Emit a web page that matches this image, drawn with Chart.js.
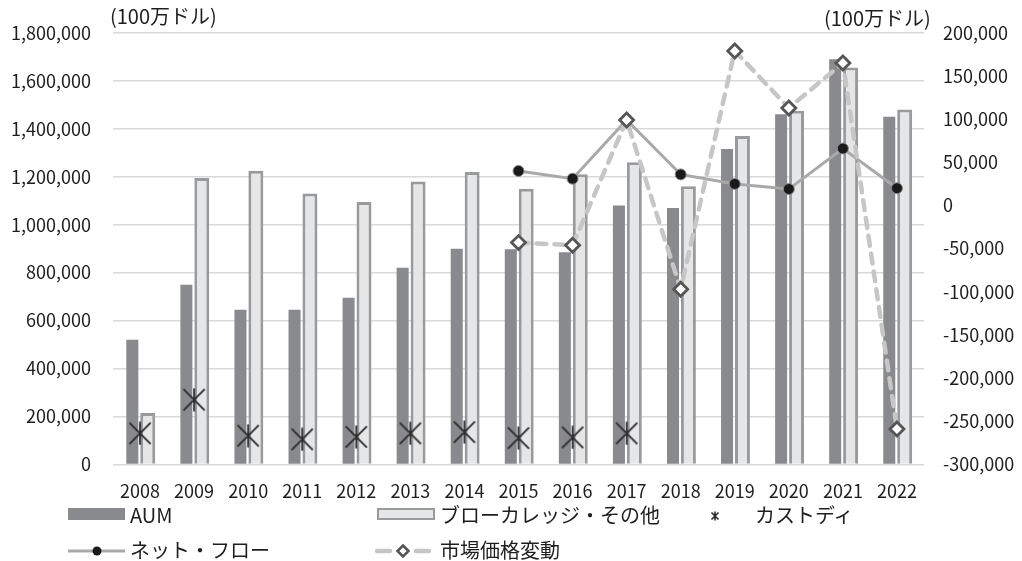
<!DOCTYPE html>
<html lang="ja">
<head>
<meta charset="utf-8">
<title>AUM・ブローカレッジ・カストディ</title>
<script src="https://cdn.jsdelivr.net/npm/chart.js@4/dist/chart.umd.min.js"></script>
<style>
  html, body { margin: 0; padding: 0; background: #fff; }
  #wrap { position: relative; width: 1022px; height: 561px; overflow: hidden;
          font-family: "Noto Sans CJK JP", "Noto Sans", sans-serif; color: #1e1e1e; }
  #chart { position: absolute; left: 0; top: 0; }
  .unit { position: absolute; font-size: 20px; line-height: 24px; white-space: nowrap; }
  .lg { position: absolute; font-size: 20px; line-height: 24px; white-space: nowrap; }
  .sym { position: absolute; }
</style>
</head>
<body>
<div id="wrap">
  <canvas id="chart" width="1022" height="561"></canvas>
  <div class="unit" style="left:110px; top:4px;">(100万ドル)</div>
  <div class="unit" style="left:824px; top:6px;">(100万ドル)</div>

  <!-- legend row 1 -->
  <div class="sym" style="left:68px; top:508px; width:57px; height:12px; background:#898a8e;"></div>
  <div class="lg" style="left:130px; top:503px;">AUM</div>
  <div class="sym" style="left:377px; top:508px; width:58px; height:12px; background:#e5e6e8; border:2.5px solid #999a9c; box-sizing:border-box;"></div>
  <div class="lg" style="left:440px; top:503px;">ブローカレッジ・その他</div>
  <svg class="sym" style="left:710px; top:511px;" width="10" height="10" viewBox="0 0 10 10">
    <path d="M1.5 1.5 L8.5 8.5 M8.5 1.5 L1.5 8.5 M5 0.5 L5 9.5" stroke="#2b2b2b" stroke-width="1.6" fill="none"/>
  </svg>
  <div class="lg" style="left:755px; top:503px;">カストディ</div>

  <!-- legend row 2 -->
  <svg class="sym" style="left:66px; top:542px;" width="62" height="18" viewBox="0 0 62 18">
    <line x1="2" y1="9" x2="59" y2="9" stroke="#a9a9a9" stroke-width="3"/>
    <circle cx="31" cy="9" r="4.5" fill="#1a1a1a"/>
  </svg>
  <div class="lg" style="left:130px; top:538px;">ネット・フロー</div>
  <svg class="sym" style="left:375px; top:541px;" width="62" height="20" viewBox="0 0 62 20">
    <line x1="2" y1="10" x2="15" y2="10" stroke="#c6c6c6" stroke-width="4.5" stroke-linecap="round"/>
    <line x1="41" y1="10" x2="54" y2="10" stroke="#c6c6c6" stroke-width="4.5" stroke-linecap="round"/>
    <path d="M28 4.5 L33.5 10 L28 15.5 L22.5 10 Z" fill="#fff" stroke="#555" stroke-width="2.6"/>
  </svg>
  <div class="lg" style="left:440px; top:538px;">市場価格変動</div>
</div>

<script>
// 年次カテゴリ
const years = ['2008', '2009', '2010', '2011', '2012', '2013', '2014', '2015',
               '2016', '2017', '2018', '2019', '2020', '2021', '2022'];

// 左軸 (100万ドル)
const aum        = [520000, 750000, 645000, 645000, 695000, 820000, 900000, 898000,
                    885000, 1080000, 1070000, 1315000, 1460000, 1690000, 1450000];
const brokerage  = [215000, 1195000, 1225000, 1130000, 1095000, 1180000, 1220000, 1150000,
                    1210000, 1260000, 1160000, 1370000, 1475000, 1655000, 1480000];
const custody    = [130000, 270000, 120000, 105000, 115000, 130000, 135000, 110000,
                    113000, 130000, null, null, null, null, null];

// 右軸 (100万ドル)
const netFlow      = [null, null, null, null, null, null, null, 40000,
                      31000, 99000, 36000, 25000, 19000, 66000, 20000];
const marketChange = [null, null, null, null, null, null, null, -43000,
                      -46000, 99000, -97000, 179000, 113000, 165000, -259000];

// 軸の目盛り範囲
const leftTicks  = { min: 0, max: 1800000, step: 200000 };
const rightTicks = { min: -300000, max: 200000, step: 50000 };

// カストディ用のアスタリスク型マーカー
function asteriskMarker(size, color, width) {
  const c = document.createElement('canvas');
  c.width = size; c.height = size;
  const g = c.getContext('2d');
  const m = width / 2 + 0.5;
  g.strokeStyle = color;
  g.lineWidth = width;
  g.beginPath();
  g.moveTo(m, m); g.lineTo(size - m, size - m);
  g.moveTo(size - m, m); g.lineTo(m, size - m);
  g.moveTo(size / 2, 0.5); g.lineTo(size / 2, size - 0.5);
  g.stroke();
  return c;
}

const tickFont = { family: '"Noto Sans CJK JP", "Noto Sans", sans-serif', size: 18 };
const fmt = v => Number(v).toLocaleString('en-US');

new Chart(document.getElementById('chart'), {
  type: 'bar',
  data: {
    labels: years,
    datasets: [
      {
        type: 'line', label: '市場価格変動', data: marketChange, yAxisID: 'yR', order: 0,
        borderColor: '#c6c6c6', borderWidth: 4.5, borderDash: [10, 8], borderCapStyle: 'round',
        pointStyle: 'rectRot', pointRadius: 7, pointHoverRadius: 7,
        pointBackgroundColor: '#ffffff', pointBorderColor: '#555555', pointBorderWidth: 2.8,
        tension: 0, spanGaps: false
      },
      {
        type: 'line', label: 'ネット・フロー', data: netFlow, yAxisID: 'yR', order: 1,
        borderColor: '#a9a9a9', borderWidth: 3,
        pointStyle: 'circle', pointRadius: 5.5, pointHoverRadius: 5.5,
        pointBackgroundColor: '#1a1a1a', pointBorderColor: '#8a8a8a', pointBorderWidth: 1,
        tension: 0
      },
      {
        type: 'line', label: 'カストディ', data: custody, yAxisID: 'yL', order: 2,
        showLine: false,
        pointStyle: asteriskMarker(24, '#2b2b2b', 1.8), pointRadius: 12, pointHoverRadius: 12
      },
      {
        label: 'AUM', data: aum, yAxisID: 'yL', order: 3,
        backgroundColor: '#898a8e', borderWidth: 0,
        barPercentage: 0.78, categoryPercentage: 0.57
      },
      {
        label: 'ブローカレッジ・その他', data: brokerage, yAxisID: 'yL', order: 4,
        backgroundColor: '#e5e6e8', borderColor: '#999a9c', borderWidth: 3,
        barPercentage: 0.97, categoryPercentage: 0.57
      }
    ]
  },
  options: {
    responsive: false,
    devicePixelRatio: 1,
    animation: false,
    layout: { padding: { top: 31.5, bottom: 56.5, left: 0, right: 0 } },
    plugins: { legend: { display: false }, tooltip: { enabled: false } },
    scales: {
      x: {
        offset: true,
        grid: { display: false, drawTicks: false, tickLength: 0 },
        border: { display: false },
        ticks: { color: '#1e1e1e', font: tickFont, padding: 16, maxRotation: 0, autoSkip: false },
        afterFit: s => { s.height = 40; }
      },
      yL: {
        position: 'left',
        min: leftTicks.min, max: leftTicks.max,
        grid: { color: '#d9d9d9', lineWidth: 1.5, drawTicks: false, tickLength: 0 },
        border: { display: false },
        ticks: { stepSize: leftTicks.step, color: '#1e1e1e', font: tickFont, padding: 22, callback: fmt },
        afterFit: s => { s.width = 113; }
      },
      yR: {
        position: 'right',
        min: rightTicks.min, max: rightTicks.max,
        grid: { drawOnChartArea: false, drawTicks: false, tickLength: 0 },
        border: { display: false },
        ticks: { stepSize: rightTicks.step, color: '#1e1e1e', font: tickFont, padding: 19, callback: fmt },
        afterFit: s => { s.width = 98; }
      }
    }
  }
});
</script>
</body>
</html>
